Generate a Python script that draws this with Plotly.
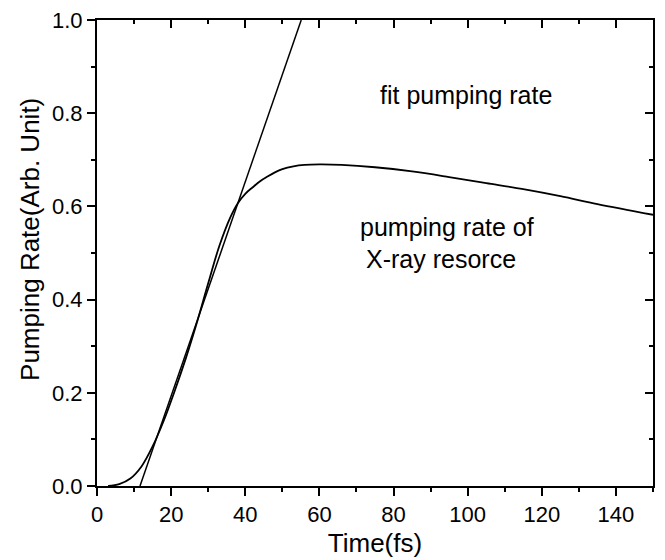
import plotly.graph_objects as go

# Pumping rate of X-ray source
time_fs = [3, 6, 9, 12, 15, 18, 21, 24, 27, 30, 33, 36, 38, 40, 42, 44, 46, 48, 50, 53, 56, 60,
           66, 75, 85, 95, 105, 115, 125, 135, 150]
pump_rate = [0.0, 0.004, 0.016, 0.042, 0.085, 0.14, 0.205, 0.275, 0.352, 0.435, 0.515,
             0.577, 0.607, 0.627, 0.641, 0.654, 0.664, 0.673, 0.68, 0.686, 0.689, 0.69,
             0.689, 0.684, 0.675, 0.663, 0.65, 0.637, 0.622, 0.605, 0.582]

# Linear fit of the pumping rate (end points)
fit_time = [11.6, 55.1]
fit_rate = [0.0, 1.0]

FONT = "Liberation Sans, Arial, Helvetica, sans-serif"

fig = go.Figure()
fig.add_trace(go.Scatter(x=time_fs, y=pump_rate, mode="lines",
                         line=dict(color="black", width=1.8, shape="spline", smoothing=1.0),
                         showlegend=False, hoverinfo="skip"))
fig.add_trace(go.Scatter(x=fit_time, y=fit_rate, mode="lines",
                         line=dict(color="black", width=1.5),
                         showlegend=False, hoverinfo="skip"))
# invisible trace to anchor mirror axes
fig.add_trace(go.Scatter(x=[0], y=[0], xaxis="x2", yaxis="y2", mode="markers",
                         marker=dict(opacity=0), showlegend=False, hoverinfo="skip"))

common = dict(showgrid=False, zeroline=False, showline=True, linecolor="black",
              linewidth=2, tickcolor="black", tickwidth=1.5, automargin=False)

fig.update_layout(
    width=665, height=560,
    margin=dict(l=97, r=12, t=20, b=74),
    plot_bgcolor="white", paper_bgcolor="white",
    font=dict(family=FONT, size=22, color="black"),
    xaxis=dict(range=[0, 150], dtick=20, tick0=0, ticks="outside", ticklen=8,
               minor=dict(dtick=10, ticks="outside", ticklen=4, tickcolor="black", tickwidth=1.5),
               title=dict(text="Time(fs)", font=dict(size=26), standoff=7),
               tickfont=dict(size=22), **common),
    yaxis=dict(range=[0, 1.0], dtick=0.2, tick0=0, ticks="outside", ticklen=8,
               tickformat=".1f",
               minor=dict(dtick=0.1, ticks="outside", ticklen=4, tickcolor="black", tickwidth=1.5),
               tickfont=dict(size=22), **common),
    xaxis2=dict(range=[0, 150], overlaying="x", side="top", anchor="y", dtick=20, tick0=0,
                ticks="inside", ticklen=8, showticklabels=False,
                minor=dict(dtick=10, ticks="inside", ticklen=4, tickcolor="black", tickwidth=1.5),
                **common),
    yaxis2=dict(range=[0, 1.0], overlaying="y", side="right", anchor="x", dtick=0.2, tick0=0,
                ticks="inside", ticklen=8, showticklabels=False,
                minor=dict(dtick=0.1, ticks="inside", ticklen=4, tickcolor="black", tickwidth=1.5),
                **common),
    annotations=[
        dict(x=-0.1205, y=0.528, xref="paper", yref="paper", text="Pumping Rate(Arb. Unit)",
             textangle=-90, showarrow=False, xanchor="center", yanchor="middle",
             font=dict(size=26, family=FONT)),
        dict(x=99.5, y=0.84, xref="x", yref="y", text="fit pumping rate", showarrow=False,
             font=dict(size=25, family=FONT)),
        dict(x=94.4, y=0.555, xref="x", yref="y", text="pumping rate of", showarrow=False,
             font=dict(size=25, family=FONT)),
        dict(x=92.8, y=0.487, xref="x", yref="y", text="X-ray resorce", showarrow=False,
             font=dict(size=25, family=FONT)),
    ],
)

fig.write_html("out.html", config={"displayModeBar": False},
               post_script="document.body.style.margin='0';document.body.style.padding='0';")
